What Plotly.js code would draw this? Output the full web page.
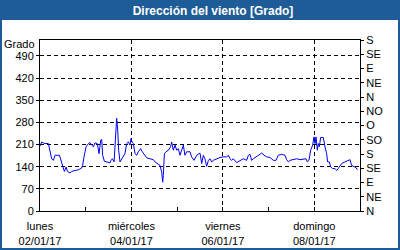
<!DOCTYPE html>
<html><head><meta charset="utf-8">
<script src="https://cdn.plot.ly/plotly-3.0.1.min.js"></script>
<style>body{margin:0;padding:0;background:#fff}#c{width:400px;height:250px}</style>
</head><body><div id="c"></div>
<script>
// hours since 02/01/17 00:00
const hours = [0,0.9,1.75,2.6,4.4,4.9,6.1,7,7.9,10.2,10.9,11.9,12.8,13.7,14.4,15.75,16.6,18.4,20.1,21.9,22.4,23.1,24.2,25.4,26.25,27.1,28,28.9,30.1,31,31.9,32.4,32.9,33.8,35,36.75,37.3,38,38.9,39.4,40.25,40.8,41.3,42,42.9,43.75,44.6,45.5,46.4,47.25,47.8,48.3,49,49.9,50.75,51.6,52.85,53.7,55.1,56,57.75,59.5,60.4,61.6,63,63.9,64.4,64.75,65.3,66.15,67.4,68.6,69.1,70,70.9,71.75,72.6,73.5,74.4,75.25,76.1,77,78.75,79.6,80.85,82.25,84,84.9,85.75,86.6,87.5,88.4,89.25,90.1,91,92.75,94.5,96.25,98,98.9,99.75,100.6,101.5,103.25,105,106.75,108.5,109.4,110.25,111.1,112,113.75,115.5,116.4,117.6,119,120.75,122.5,123.9,125.1,126.9,128.6,129.5,130.4,131.25,133,134.75,136.5,138.25,139.65,140.35,141.2,142.1,143.15,143.85,144.4,144.9,145.6,146.1,146.65,147.35,148.75,149.6,150.5,151,151.9,152.6,153.65,154.9,155.75,156.6,157.5,158.4,160.1,161.9,162.75,163.6,164.5,165.9,166.6];
const direccion = [205,218,215,213,213,197,165,160,176,176,160,139,125,139,125,120,125,128,130,136,144,171,203,213,216,208,203,215,213,181,224,226,176,157,155,152,160,165,155,213,293,256,192,155,165,171,181,213,218,208,229,218,213,181,176,187,197,187,176,168,165,162,155,150,144,123,91,112,181,187,192,203,218,192,208,192,197,176,192,208,176,187,187,171,160,176,183,150,176,165,141,160,165,155,160,165,169,171,171,176,165,160,165,153,160,165,160,176,179,160,165,173,178,183,176,171,169,160,160,176,179,176,162,155,160,162,165,162,163,165,155,160,192,208,234,213,234,192,213,203,232,232,203,181,155,155,139,134,134,128,134,144,150,155,160,162,144,141,137,130];
const dayTicks = [0,48,96,144];
const dayLabels = ['lunes<br>02/01/17','miércoles<br>04/01/17','viernes<br>06/01/17','domingo<br>08/01/17'];
const minorDays = [24,72,120];
const gradoTicks = [0,70,140,210,280,350,420,490];
const rumboTicks = [0,45,90,135,180,225,270,315,360,405,450,495,540];
const rumboLabels = ['N','NE','E','SE','S','SO','O','NO','N','NE','E','SE','S'];

const W=400,H=250,L=40,R=360,T=40,B=211;
const px = x => (x-L)/(R-L), py = y => (B-y)/(B-T);
const blue = '#1E5C97';
const font = {family:'Liberation Sans, Arial, sans-serif', size:11, color:'#000'};

const data = [
  {x:hours, y:direccion, type:'scatter', mode:'lines', line:{color:'#0000F0', width:1}, hoverinfo:'skip'},
  {x:[0], y:[0], yaxis:'y2', type:'scatter', mode:'markers', marker:{opacity:0}, hoverinfo:'skip'}
];
const layout = {
  width:W, height:H, margin:{l:L, r:W-R, t:T, b:H-B, pad:0},
  paper_bgcolor:'#fff', plot_bgcolor:'#fff', showlegend:false, font:font,
  title:{text:'<b>Dirección del viento [Grado]</b>', font:{family:'Liberation Sans, Arial, sans-serif', size:12, color:'#fff'},
    xref:'container', yref:'container', x:213/W, y:1-10.5/H, xanchor:'center', yanchor:'middle'},
  xaxis:{range:[0,168], tickmode:'array', tickvals:dayTicks, ticktext:dayLabels, ticks:'inside', ticklen:4, tickcolor:'#000',
    showgrid:true, gridcolor:'#000', griddash:'4px,3px', gridwidth:1, zeroline:false, ticklabelstandoff:5,
    showline:true, linecolor:'#000', linewidth:1, mirror:true, tickfont:font,
    minor:{tickmode:'array', tickvals:minorDays, ticks:'inside', ticklen:4, tickcolor:'#000', showgrid:false}},
  yaxis:{range:[0,540], tickmode:'array', tickvals:gradoTicks, ticks:'outside', ticklen:3, tickcolor:'#000',
    showgrid:true, gridcolor:'#000', griddash:'4px,3px', gridwidth:1, zeroline:false,
    showline:true, linecolor:'#000', linewidth:1, tickfont:font},
  yaxis2:{range:[0,540], overlaying:'y', side:'right', tickmode:'array', tickvals:rumboTicks, ticktext:rumboLabels,
    ticks:'outside', ticklen:3, tickcolor:'#000', showgrid:false, zeroline:false,
    showline:true, linecolor:'#000', linewidth:1, tickfont:font},
  shapes:[
    {type:'rect', xref:'paper', yref:'paper', x0:px(0), x1:px(W), y0:py(0), y1:py(20), fillcolor:blue, line:{width:0}, layer:'below'},
    {type:'rect', xref:'paper', yref:'paper', x0:px(0), x1:px(2), y0:py(0), y1:py(H), fillcolor:blue, line:{width:0}, layer:'below'},
    {type:'rect', xref:'paper', yref:'paper', x0:px(W-2), x1:px(W), y0:py(0), y1:py(H), fillcolor:blue, line:{width:0}, layer:'below'},
    {type:'rect', xref:'paper', yref:'paper', x0:px(0), x1:px(W), y0:py(H-2), y1:py(H), fillcolor:blue, line:{width:0}, layer:'below'}
  ],
  annotations:[
    {text:'Grado', xref:'paper', yref:'paper', x:px(37), y:py(43.5), xanchor:'right', yanchor:'middle', showarrow:false, font:font}
  ]
};
Plotly.newPlot('c', data, layout, {staticPlot:true, displayModeBar:false});
</script></body></html>
